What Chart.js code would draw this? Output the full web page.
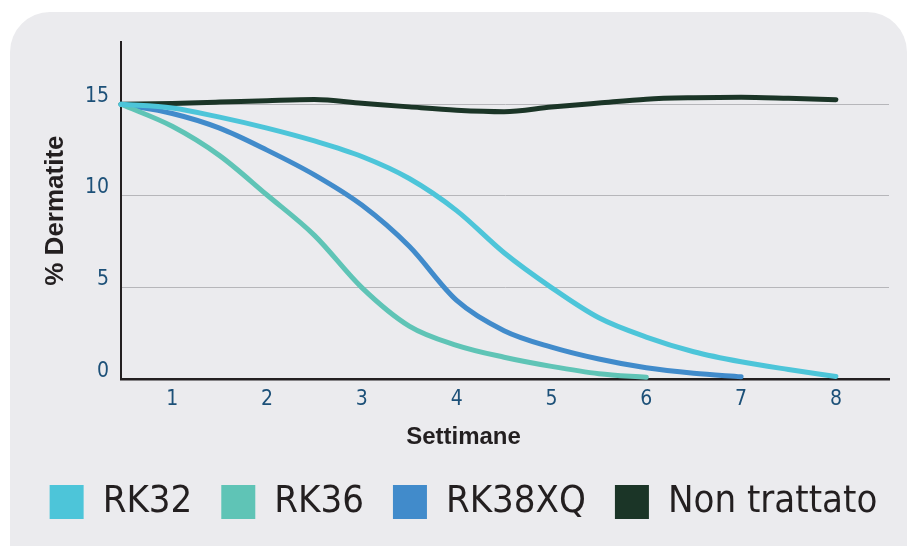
<!DOCTYPE html>
<html lang="it">
<head>
<meta charset="utf-8">
<title>% Dermatite per settimana</title>
<script src="https://cdn.jsdelivr.net/npm/chart.js@4.4.1/dist/chart.umd.min.js"></script>
<style>
  html, body { margin: 0; padding: 0; background: #ffffff; }
  #wrap { position: relative; width: 909px; height: 546px; overflow: hidden; }
  #panel { position: absolute; left: 10px; top: 12px; width: 897px; height: 580px; background: #ebebee; border-radius: 40px; }
  #box { position: absolute; left: 0; top: 0; width: 909px; height: 546px; }
</style>
</head>
<body>
<div id="wrap">
  <div id="panel"></div>
  <div id="box"><canvas id="chart"></canvas></div>
</div>
<script>
// Settimane (asse x): il primo punto è l'inizio della curva sull'asse y
const settimane = [0.46, 1, 1.5, 2, 2.5, 3, 3.5, 4, 4.5, 5, 5.5, 6, 6.5, 7, 7.5, 8];

// % Dermatite
const rk32 = [15, 14.8, 14.3, 13.7, 13.0, 12.15, 10.95, 9.2, 6.9, 5.0, 3.35, 2.3, 1.5, 0.95, 0.53, 0.15];
const rk36 = [15, 13.8, 12.2, 10.05, 7.85, 5.0, 2.9, 1.85, 1.2, 0.7, 0.3, 0.1];
const rk38xq = [15, 14.5, 13.7, 12.5, 11.15, 9.5, 7.25, 4.3, 2.65, 1.75, 1.1, 0.62, 0.32, 0.13];
const nonTrattato = [15, 15.05, 15.12, 15.2, 15.26, 15.06, 14.86, 14.68, 14.6, 14.85, 15.07, 15.28, 15.36, 15.39, 15.33, 15.25];

const nomiSerie = ["RK32", "RK36", "RK38XQ", "Non trattato"];

// Etichette degli assi
const tickX = [1, 2, 3, 4, 5, 6, 7, 8];
const tickY = [0, 5, 10, 15];

const colori = ["#4dc5d9", "#5fc4b6", "#418bcb", "#1b3527"];
const fontStretto = "'Liberation Sans Narrow', 'DejaVu Sans Condensed', sans-serif";
const fontTitoli = "'Liberation Sans', Arial, sans-serif";
const coloreTick = "#1c5078";
const coloreTesto = "#231f20";

function punti(valori) {
  return valori.map((v, i) => ({ x: settimane[i], y: v }));
}

const valoriSerie = [rk32, rk36, rk38xq, nonTrattato];

const datasets = valoriSerie.map((valori, i) => ({
  label: nomiSerie[i],
  data: punti(valori),
  borderColor: colori[i],
  backgroundColor: colori[i],
  yAxisID: "y",
  clip: false,
}));

const ctx = document.getElementById("chart").getContext("2d");

new Chart(ctx, {
  type: "line",
  data: { datasets },
  options: {
    responsive: true,
    maintainAspectRatio: false,
    animation: false,
    layout: { padding: { left: 18, right: 0, top: 42, bottom: 15 } },
    elements: {
      point: { radius: 0, hoverRadius: 0 },
      line: {
        borderWidth: 5,
        cubicInterpolationMode: "monotone",
        borderCapStyle: "round",
        borderJoinStyle: "round",
      },
    },
    scales: {
      x: {
        type: "linear",
        min: 0.46,
        max: 8.56,
        afterBuildTicks: (s) => {
          s.ticks = tickX.map((v) => ({ value: v }));
        },
        afterFit: (s) => {
          s.height = 33;
        },
        grid: { display: false, drawTicks: false },
        border: { display: true, color: coloreTesto, width: 2.5 },
        ticks: {
          padding: 8,
          color: coloreTick,
          font: { family: fontStretto, size: 21 },
        },
      },
      y: {
        type: "linear",
        position: "left",
        min: 0,
        max: 18.4,
        afterBuildTicks: (s) => {
          s.ticks = tickY.map((v) => ({ value: v }));
        },
        afterFit: (s) => {
          s.width = 103;
        },
        grid: { color: "#b6b6ba", lineWidth: 1, drawTicks: false },
        border: { display: true, color: coloreTesto, width: 2 },
        ticks: {
          padding: 12,
          labelOffset: -8,
          color: coloreTick,
          font: { family: fontStretto, size: 21 },
        },
        title: {
          display: true,
          text: "% Dermatite",
          color: coloreTesto,
          font: { family: fontTitoli, weight: "bold", size: 26 },
          padding: { top: 22, bottom: 0 },
        },
      },
      // margine destro vuoto: allarga la legenda senza allungare l'asse x
      margine: {
        type: "linear",
        position: "right",
        afterFit: (s) => {
          s.width = 20;
        },
        grid: { display: false, drawTicks: false },
        border: { display: false },
        ticks: { display: false },
      },
    },
    plugins: {
      legend: {
        position: "bottom",
        weight: 1000,
        labels: {
          boxWidth: 34,
          boxHeight: 34,
          padding: 29,
          color: coloreTesto,
          font: { family: fontStretto, size: 38 },
          generateLabels: (chart) =>
            Chart.defaults.plugins.legend.labels
              .generateLabels(chart)
              .map((item) => ({ ...item, lineWidth: 0 })),
        },
      },
      title: {
        display: true,
        position: "bottom",
        weight: 500,
        text: "Settimane",
        color: coloreTesto,
        font: { family: fontTitoli, weight: "bold", size: 24 },
        padding: { top: 11, bottom: 2 },
      },
      tooltip: { enabled: false },
    },
  },
});
</script>
</body>
</html>
